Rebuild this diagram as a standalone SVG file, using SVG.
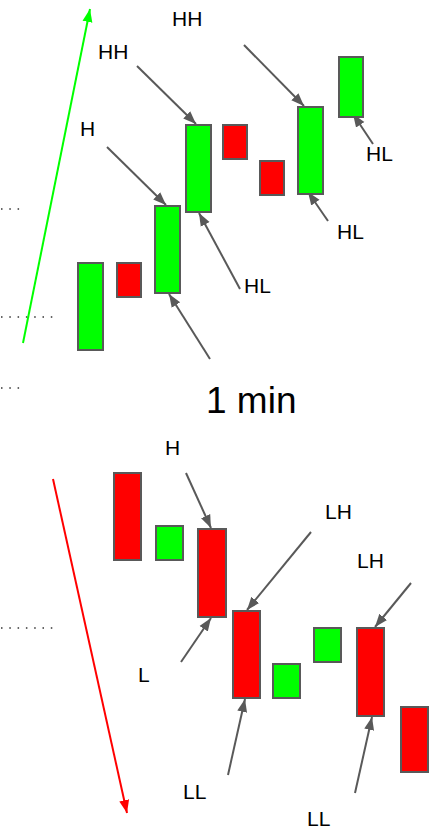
<svg xmlns="http://www.w3.org/2000/svg" width="432" height="833" viewBox="0 0 432 833">
<style>
.g{fill:#00ff00;stroke:#595959;stroke-width:2}
.r{fill:#ff0000;stroke:#595959;stroke-width:2}
.a{stroke:#595959;stroke-width:2;fill:none;marker-end:url(#ah)}
.t{font-family:"Liberation Sans",Arial,sans-serif;font-size:21px;fill:#000}
.d{stroke:#666;stroke-width:2;stroke-dasharray:1.5 6.8;fill:none}
</style>
<defs>
<marker id="ah" markerUnits="userSpaceOnUse" markerWidth="14" markerHeight="12" viewBox="0 0 14 12" refX="13" refY="6" orient="auto"><path d="M0,1 L13,6 L0,11 Z" fill="#595959"/></marker>
<marker id="ag" markerUnits="userSpaceOnUse" markerWidth="14" markerHeight="12" viewBox="0 0 14 12" refX="13" refY="6" orient="auto"><path d="M0,1 L13,6 L0,11 Z" fill="#00ff00"/></marker>
<marker id="ar" markerUnits="userSpaceOnUse" markerWidth="14" markerHeight="12" viewBox="0 0 14 12" refX="13" refY="6" orient="auto"><path d="M0,1 L13,6 L0,11 Z" fill="#ff0000"/></marker>
</defs>
<g id="dots">
<line class="d" x1="1" y1="209" x2="22" y2="209"/>
<line class="d" x1="1" y1="317" x2="55" y2="317"/>
<line class="d" x1="1" y1="388" x2="22" y2="388"/>
<line class="d" x1="1" y1="628" x2="55" y2="628"/>
</g>
<g id="connectors">
<line x1="23" y1="343" x2="90" y2="9" stroke="#00ff00" stroke-width="2" marker-end="url(#ag)"/>
<line x1="53" y1="479" x2="127" y2="813" stroke="#ff0000" stroke-width="2" marker-end="url(#ar)"/>
<line class="a" x1="137" y1="66" x2="196" y2="124"/>
<line class="a" x1="107" y1="147" x2="166" y2="205"/>
<line class="a" x1="244" y1="45" x2="304" y2="106"/>
<line class="a" x1="373" y1="144" x2="353" y2="114"/>
<line class="a" x1="328" y1="221" x2="308" y2="192"/>
<line class="a" x1="240" y1="289" x2="199" y2="213"/>
<line class="a" x1="210" y1="359" x2="169" y2="294"/>
<line class="a" x1="186" y1="473" x2="211" y2="528"/>
<line class="a" x1="181" y1="662" x2="211" y2="618"/>
<line class="a" x1="311" y1="532" x2="247" y2="610"/>
<line class="a" x1="411" y1="583" x2="375" y2="627"/>
<line class="a" x1="228" y1="775" x2="245" y2="699"/>
<line class="a" x1="355" y1="793" x2="372" y2="717"/>
</g>
<g id="c1"><rect class="g" x="78" y="263" width="25" height="87"/></g>
<g id="c2"><rect class="r" x="117" y="263" width="24" height="34"/></g>
<g id="c3"><rect class="g" x="155" y="206" width="25" height="87"/></g>
<g id="c4"><rect class="g" x="186" y="125" width="25" height="87"/></g>
<g id="c5"><rect class="r" x="223" y="125" width="24" height="34"/></g>
<g id="c6"><rect class="r" x="260" y="161" width="24" height="34"/></g>
<g id="c7"><rect class="g" x="298" y="107" width="25" height="87"/></g>
<g id="c8"><rect class="g" x="339" y="57" width="24" height="60"/></g>
<g id="b1"><rect class="r" x="114" y="473" width="27" height="87"/></g>
<g id="b2"><rect class="g" x="156" y="526" width="27" height="34"/></g>
<g id="b3"><rect class="r" x="198" y="529" width="28" height="88"/></g>
<g id="b4"><rect class="r" x="233" y="611" width="27" height="87"/></g>
<g id="b5"><rect class="g" x="273" y="664" width="27" height="34"/></g>
<g id="b6"><rect class="g" x="314" y="628" width="27" height="34"/></g>
<g id="b7"><rect class="r" x="357" y="628" width="27" height="88"/></g>
<g id="b8"><rect class="r" x="401" y="707" width="27" height="65"/></g>
<g id="labels">
<text class="t" x="172" y="26">HH</text>
<text class="t" x="98" y="59">HH</text>
<text class="t" x="80" y="136">H</text>
<text class="t" x="366" y="161">HL</text>
<text class="t" x="337" y="239">HL</text>
<text class="t" x="244" y="293">HL</text>
<text class="t" x="206" y="413" style="font-size:37px">1 min</text>
<text class="t" x="165" y="455">H</text>
<text class="t" x="138" y="682">L</text>
<text class="t" x="325" y="519">LH</text>
<text class="t" x="357" y="568">LH</text>
<text class="t" x="183" y="799">LL</text>
<text class="t" x="307" y="826">LL</text>
</g>
</svg>
